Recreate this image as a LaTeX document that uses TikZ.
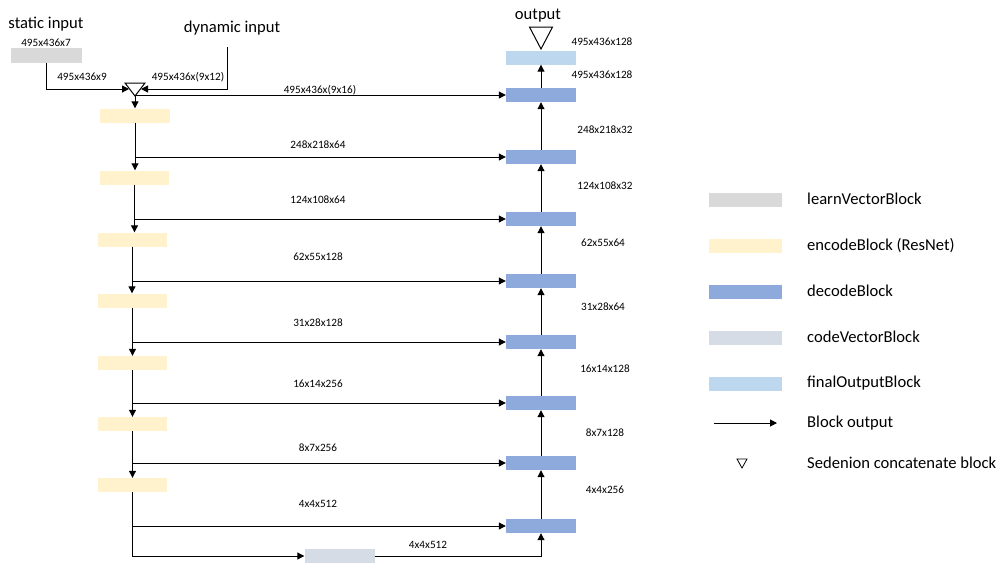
\documentclass[tikz,border=0pt]{standalone}
\usepackage{fontspec}
\setmainfont{Carlito}
\usetikzlibrary{arrows.meta,calc}
\definecolor{learnc}{HTML}{D9D9D9}
\definecolor{encc}{HTML}{FFF2CC}
\definecolor{decc}{HTML}{8EA9DB}
\definecolor{codec}{HTML}{D6DCE5}
\definecolor{finc}{HTML}{BDD7EE}
\tikzset{
  blk/.style={minimum width=70pt,minimum height=14pt,inner sep=0pt,draw=none},
  arr/.style={-{Triangle[length=7pt,width=7pt]},line width=1pt,black},
  ln/.style={line width=1pt,black},
  lab/.style={font=\fontsize{11.2}{13}\selectfont,inner sep=0pt},
  big/.style={font=\fontsize{16.6}{19}\selectfont,inner sep=0pt},
  tri/.style={line width=1pt,black,fill=white}
}
\begin{document}
\begin{tikzpicture}[x=1pt,y=-1pt]
\useasboundingbox (0,0) rectangle (1001,587);
% inputs
\node[big] (st) at (46,24) {static input};
\node[lab] (stl) at (46,43) {495x436x7};
\node[blk,fill=learnc,minimum width=71pt,minimum height=15pt] (lv) at (46.5,55.5) {};
\node[big] (dy) at (232,28) {dynamic input};
\coordinate (dyn) at (227,47);
% concat triangle
\draw[tri] (125,83) -- (145,83) -- (135,96) -- cycle;
\coordinate (catL) at (129,89);
\coordinate (catR) at (141,89);
\coordinate (catB) at (135,96);
\node[lab] at (82,77) {495x436x9};
\node[lab] at (188,77) {495x436x(9x12)};
\draw[arr] (lv.south) |- (catL);
\draw[arr] (dyn) |- (catR);
% encoder blocks
\node[blk,fill=encc] (e1) at (135,115.5) {};
\node[blk,fill=encc,minimum width=69pt] (e2) at (134.5,177.5) {};
\node[blk,fill=encc,minimum width=69pt] (e3) at (132.5,239.5) {};
\node[blk,fill=encc,minimum width=69pt] (e4) at (132.5,300.5) {};
\node[blk,fill=encc,minimum width=69pt] (e5) at (132.5,363) {};
\node[blk,fill=encc,minimum width=69pt] (e6) at (132.5,424) {};
\node[blk,fill=encc,minimum width=69pt] (e7) at (132.5,485) {};
% decoder blocks
\node[blk,fill=finc] (fo) at (541,57.5) {};
\node[blk,fill=decc] (d1) at (541,95) {};
\node[blk,fill=decc] (d2) at (541,157) {};
\node[blk,fill=decc] (d3) at (541,219) {};
\node[blk,fill=decc] (d4) at (541,281) {};
\node[blk,fill=decc] (d5) at (541,342) {};
\node[blk,fill=decc] (d6) at (541,403) {};
\node[blk,fill=decc] (d7) at (541,463) {};
\node[blk,fill=decc] (d8) at (541,526) {};
\node[blk,fill=codec] (cv) at (339.5,556) {};
% output triangle
\node[big] (out) at (538,16) {output};
\draw[tri] (529.5,27) -- (552.5,27) -- (541,49) -- cycle;
% concat to encoder and skip
\draw[arr] (catB) -- (e1.north);
\draw[arr] (catB |- d1.west) -- (d1.west);
% encoder chain
\draw[arr] (e1.south) -- (e1.south |- e2.north);
\draw[arr] (e2.south) -- (e2.south |- e3.north);
\draw[arr] ([xshift=-0.5pt]e3.south) -- ([xshift=-0.5pt]e3.south |- e4.north);
\draw[arr] (e4.south) -- (e4.south |- e5.north);
\draw[arr] (e5.south) -- (e5.south |- e6.north);
\draw[arr] (e6.south) -- (e6.south |- e7.north);
% skips
\draw[arr] (e1.south |- d2.west) -- (d2.west);
\draw[arr] (e2.south |- d3.west) -- (d3.west);
\draw[arr] (e3.south |- d4.west) -- (d4.west);
\draw[arr] (e4.south |- d5.west) -- (d5.west);
\draw[arr] (e5.south |- d6.west) -- (d6.west);
\draw[arr] (e6.south |- d7.west) -- (d7.west);
\draw[arr] (e7.south |- d8.west) -- (d8.west);
% bottom
\draw[arr] (e7.south) |- (cv.west);
\draw[arr] (cv.east) -| (d8.south);
% decoder chain
\draw[arr] (d8.north) -- (d7.south);
\draw[arr] (d7.north) -- (d6.south);
\draw[arr] (d6.north) -- (d5.south);
\draw[arr] (d5.north) -- (d4.south);
\draw[arr] (d4.north) -- (d3.south);
\draw[arr] (d3.north) -- (d2.south);
\draw[arr] (d2.north) -- (d1.south);
\draw[arr] (d1.north) -- (fo.south);
% skip labels
\node[lab] at (320,90) {495x436x(9x16)};
\node[lab] at (318,145) {248x218x64};
\node[lab] at (318,200) {124x108x64};
\node[lab] at (318,257) {62x55x128};
\node[lab] at (318,323) {31x28x128};
\node[lab] at (318,384) {16x14x256};
\node[lab] at (318,448) {8x7x256};
\node[lab] at (318,504) {4x4x512};
\node[lab] at (428,545) {4x4x512};
% decoder labels
\node[lab] at (602,42) {495x436x128};
\node[lab] at (602,75) {495x436x128};
\node[lab] at (605,130) {248x218x32};
\node[lab] at (605,186) {124x108x32};
\node[lab] at (603,243) {62x55x64};
\node[lab] at (603,307) {31x28x64};
\node[lab] at (605,369) {16x14x128};
\node[lab] at (605,433) {8x7x128};
\node[lab] at (605,490) {4x4x256};
% legend
\node[blk,fill=learnc,minimum width=73pt] (k1) at (745.5,200) {};
\node[blk,fill=encc,minimum width=73pt] (k2) at (745.5,245.5) {};
\node[blk,fill=decc,minimum width=73pt] (k3) at (745.5,292) {};
\node[blk,fill=codec,minimum width=73pt] (k4) at (745.5,338) {};
\node[blk,fill=finc,minimum width=73pt] (k5) at (745.5,383.5) {};
\node[big,anchor=west] at (807,199) {learnVectorBlock};
\node[big,anchor=west] at (807,246) {encodeBlock (ResNet)};
\node[big,anchor=west] at (807,291) {decodeBlock};
\node[big,anchor=west] at (807,337) {codeVectorBlock};
\node[big,anchor=west] at (807,383) {finalOutputBlock};
\coordinate (ka) at (714,423);
\coordinate (kb) at (777,423);
\draw[arr] (ka) -- (kb);
\node[big,anchor=west] at (807,423) {Block output};
\draw[line width=0.8pt] (737,459) -- (747,459) -- (742,468) -- cycle;
\node[big,anchor=west] at (807,463) {Sedenion concatenate block};
\end{tikzpicture}
\end{document}
